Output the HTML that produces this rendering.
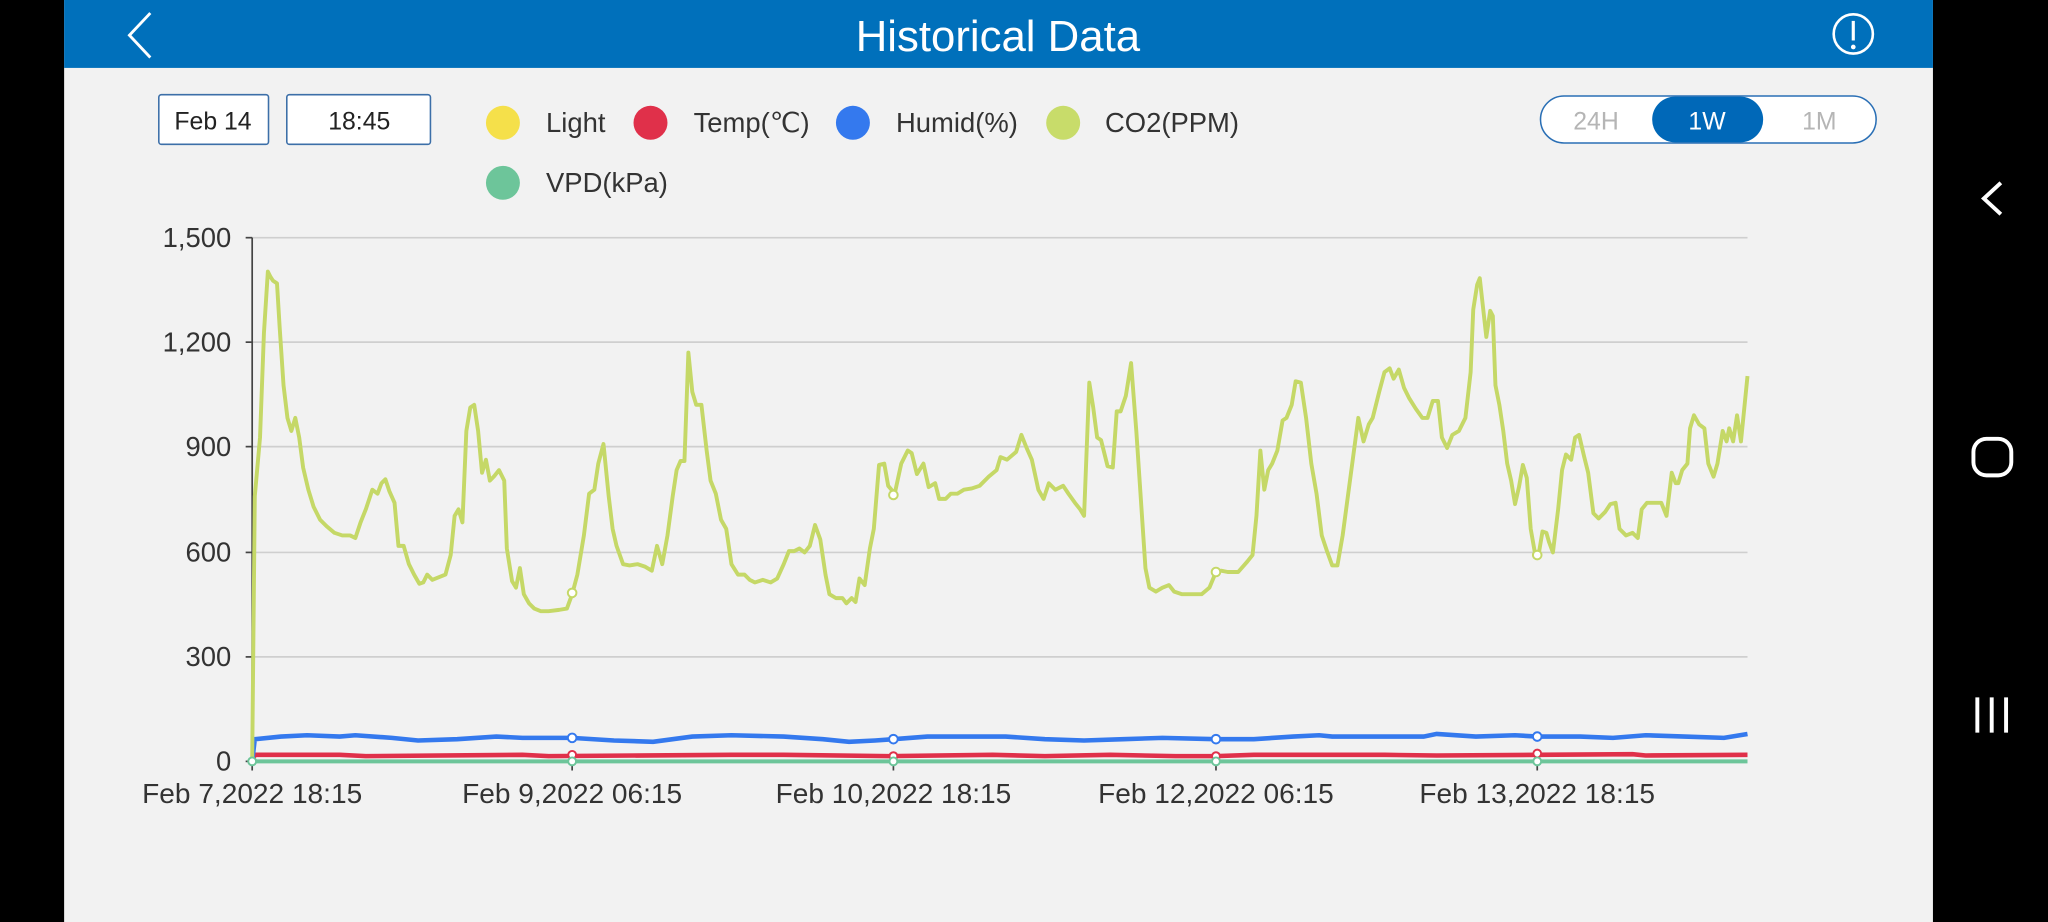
<!DOCTYPE html>
<html><head><meta charset="utf-8"><style>
html,body{margin:0;padding:0;background:#000;overflow:hidden}
svg{display:block}
text{font-family:"Liberation Sans",sans-serif}
</style></head><body>
<svg width="2048" height="922" viewBox="0 0 1568 706" xmlns="http://www.w3.org/2000/svg">
<rect x="0" y="0" width="1568" height="706" fill="#000"/>
<rect x="49" y="0" width="1431" height="706" fill="#f2f2f2"/>
<rect x="49" y="0" width="1431" height="52" fill="#0070bb"/>
<polyline points="115,10 99,27 115,44" fill="none" stroke="#fff" stroke-width="2.2"/>
<text x="764" y="39" text-anchor="middle" font-size="33.5" fill="#fff">Historical Data</text>
<circle cx="1419" cy="26" r="15" fill="none" stroke="#fff" stroke-width="2"/>
<line x1="1419" y1="16" x2="1419" y2="31" stroke="#fff" stroke-width="2.4"/>
<circle cx="1419" cy="36" r="1.8" fill="#fff"/>
<polyline points="1532,140 1519,152 1532,164" fill="none" stroke="#fff" stroke-width="3"/>
<rect x="1511" y="336" width="29" height="28" rx="10" fill="none" stroke="#fff" stroke-width="3"/>
<g stroke="#fff" stroke-width="3"><line x1="1514" y1="534" x2="1514" y2="561"/><line x1="1525" y1="534" x2="1525" y2="561"/><line x1="1536" y1="534" x2="1536" y2="561"/></g>
<rect x="121.5" y="72.5" width="84" height="38" rx="2" fill="#fff" stroke="#3c6fa8" stroke-width="1.2"/>
<text x="163" y="99" text-anchor="middle" font-size="19" fill="#222">Feb 14</text>
<rect x="219.5" y="72.5" width="110" height="38" rx="2" fill="#fff" stroke="#3c6fa8" stroke-width="1.2"/>
<text x="275" y="99" text-anchor="middle" font-size="19" fill="#222">18:45</text>
<g font-size="21" fill="#333">
<circle cx="385" cy="94" r="13" fill="#f5e04a"/><text x="418" y="101">Light</text>
<circle cx="498" cy="94" r="13" fill="#e0304a"/><text x="531" y="101">Temp(℃)</text>
<circle cx="653" cy="94" r="13" fill="#3479ee"/><text x="686" y="101">Humid(%)</text>
<circle cx="814" cy="94" r="13" fill="#c8dc6a"/><text x="846" y="101">CO2(PPM)</text>
<circle cx="385" cy="140" r="13" fill="#6dc59a"/><text x="418" y="147">VPD(kPa)</text>
</g>
<rect x="1179.5" y="73.5" width="257" height="36" rx="18" fill="#fff" stroke="#2a6fb5" stroke-width="1.2"/>
<rect x="1265" y="74" width="85" height="35" rx="17.5" fill="#0068b8"/>
<g font-size="19" text-anchor="middle">
<text x="1222" y="99" fill="#b5b5b5">24H</text>
<text x="1307" y="99" fill="#fff">1W</text>
<text x="1393" y="99" fill="#b5b5b5">1M</text>
</g>
<g stroke="#cfcfcf" stroke-width="1.3">
<line x1="193" y1="182" x2="1338" y2="182"/><line x1="193" y1="262" x2="1338" y2="262"/>
<line x1="193" y1="342" x2="1338" y2="342"/><line x1="193" y1="423" x2="1338" y2="423"/>
<line x1="193" y1="503" x2="1338" y2="503"/>
</g>
<g stroke="#444" stroke-width="1.3">
<line x1="193" y1="182" x2="193" y2="584"/><line x1="193" y1="583" x2="1338" y2="583" stroke="#bbb"/>
<line x1="188" y1="182" x2="193" y2="182"/><line x1="188" y1="262" x2="193" y2="262"/>
<line x1="188" y1="342" x2="193" y2="342"/><line x1="188" y1="423" x2="193" y2="423"/>
<line x1="188" y1="503" x2="193" y2="503"/><line x1="188" y1="583" x2="193" y2="583"/>
<line x1="193" y1="583" x2="193" y2="590"/><line x1="438" y1="583" x2="438" y2="590"/>
<line x1="684" y1="583" x2="684" y2="590"/><line x1="931" y1="583" x2="931" y2="590"/>
<line x1="1177" y1="583" x2="1177" y2="590"/>
</g>
<g font-size="21" fill="#333" text-anchor="end">
<text x="177" y="189">1,500</text><text x="177" y="269">1,200</text><text x="177" y="349">900</text>
<text x="177" y="430">600</text><text x="177" y="510">300</text><text x="177" y="590">0</text>
</g>
<g font-size="21.5" fill="#333" text-anchor="middle">
<text x="193" y="615">Feb 7,2022 18:15</text><text x="438" y="615">Feb 9,2022 06:15</text>
<text x="684" y="615">Feb 10,2022 18:15</text><text x="931" y="615">Feb 12,2022 06:15</text>
<text x="1177" y="615">Feb 13,2022 18:15</text>
</g>
<polyline fill="none" stroke="#6dc59a" stroke-width="3" points="193,583 1338,583"/>
<polyline fill="none" stroke="#e0304a" stroke-width="3.5" points="193,583 195,578 260,578 280,579 400,578 420,579 560,578 600,578 680,579 760,578 800,579 850,578 900,579 931,579 960,578 1000,578 1060,578 1100,578.5 1177,578 1250,577.5 1260,578.5 1338,578"/>
<polyline fill="none" stroke="#3479ee" stroke-width="3.5" points="193,583 195,566 215,564 235,563 260,564 272,563 300,565 320,567 350,566 380,564 400,565 438,565 470,567 500,568 530,564 560,563 600,564 630,566 650,568 670,567 684,566 710,564 740,564 770,564 800,566 830,567 860,566 890,565 931,566 960,566 990,564 1010,563 1020,564 1060,564 1090,564 1100,562 1130,564 1160,563 1177,564 1210,564 1235,565 1260,563 1290,564 1320,565 1338,562"/>
<polyline fill="none" stroke="#c5d867" stroke-width="3" stroke-linejoin="round" points="193,583 195,380 199,335 202,255 205,208 207,212 209,215 212,217 214,250 217,295 220,320 223,330 226,320 229,335 232,358 236,375 240,388 245,398 250,403 256,408 262,410 268,410 272,412 276,400 280,390 285,375 289,378 292,370 295,367 298,376 302,385 305,418 309,418 313,432 317,440 321,447 324,446 327,440 331,444 336,442 341,440 345,425 348,395 351,390 354,400 357,330 360,312 363,310 366,330 369,362 372,352 375,368 378,365 382,360 386,368 388,420 392,445 395,450 398,435 401,455 405,462 409,466 414,468 420,468 428,467 434,466 438,455 442,440 447,410 451,378 455,375 458,355 462,340 466,380 469,405 472,418 477,432 482,433 488,432 494,434 499,437 503,418 507,432 511,410 515,380 518,360 521,353 524,353 527,270 530,300 533,310 537,310 541,345 544,368 548,378 552,398 556,405 560,432 565,440 570,440 574,444 578,446 584,444 590,446 595,443 600,432 604,422 608,422 612,420 616,423 620,418 624,402 628,413 632,440 635,455 640,458 645,458 648,462 652,458 655,461 658,443 662,448 666,420 669,405 673,356 677,355 680,372 685,378 690,355 695,345 698,347 702,363 707,355 711,373 716,370 719,382 724,382 728,378 733,378 738,375 744,374 750,372 757,365 763,360 766,350 771,352 778,346 782,333 786,343 790,352 795,375 799,382 803,370 808,375 814,372 818,378 823,385 827,390 830,395 834,293 837,312 840,335 843,337 848,357 852,358 855,315 858,315 862,303 866,278 870,330 873,375 877,435 880,450 885,453 890,450 895,448 899,453 905,455 912,455 920,455 926,450 931,438 935,437 940,438 948,438 955,430 959,425 962,395 965,345 968,375 971,360 974,355 978,345 982,322 985,320 989,310 992,292 996,293 1000,320 1004,355 1008,378 1012,410 1016,422 1020,433 1024,433 1028,410 1032,380 1036,350 1040,320 1044,338 1048,325 1051,320 1056,300 1060,285 1064,282 1067,290 1071,283 1075,297 1079,305 1084,313 1089,320 1093,320 1097,307 1101,307 1104,335 1108,343 1112,333 1117,330 1122,320 1126,285 1128,237 1131,218 1133,213 1136,240 1138,258 1141,238 1143,242 1145,295 1148,310 1151,330 1154,355 1157,368 1160,386 1163,373 1166,356 1169,366 1172,405 1175,422 1178,425 1181,407 1184,408 1186,415 1189,423 1193,390 1196,360 1199,348 1203,352 1206,335 1209,333 1213,350 1216,362 1220,393 1224,397 1229,392 1233,386 1237,385 1240,405 1245,410 1250,408 1254,412 1257,390 1261,385 1266,385 1272,385 1276,395 1280,362 1283,370 1285,370 1288,360 1292,355 1294,328 1297,318 1301,325 1305,328 1308,355 1312,365 1315,355 1319,330 1322,338 1324,328 1327,338 1330,318 1333,338 1336,308 1338,288"/>
<g fill="#fff" stroke-width="1.5">
<circle cx="193" cy="583" r="3" stroke="#6dc59a"/>
<circle cx="438" cy="565" r="3.3" stroke="#3479ee"/><circle cx="684" cy="566" r="3.3" stroke="#3479ee"/><circle cx="931" cy="566" r="3.3" stroke="#3479ee"/><circle cx="1177" cy="564" r="3.3" stroke="#3479ee"/>
<circle cx="438" cy="578" r="3" stroke="#e0304a"/><circle cx="684" cy="579" r="3" stroke="#e0304a"/><circle cx="931" cy="579" r="3" stroke="#e0304a"/><circle cx="1177" cy="577" r="3" stroke="#e0304a"/>
<circle cx="438" cy="583" r="3" stroke="#6dc59a"/><circle cx="684" cy="583" r="3" stroke="#6dc59a"/><circle cx="931" cy="583" r="3" stroke="#6dc59a"/><circle cx="1177" cy="583" r="3" stroke="#6dc59a"/>
<circle cx="438" cy="454" r="3.3" stroke="#c5d867"/><circle cx="684" cy="379" r="3.3" stroke="#c5d867"/><circle cx="931" cy="438" r="3.3" stroke="#c5d867"/><circle cx="1177" cy="425" r="3.3" stroke="#c5d867"/>
</g>
</svg>
</body></html>
